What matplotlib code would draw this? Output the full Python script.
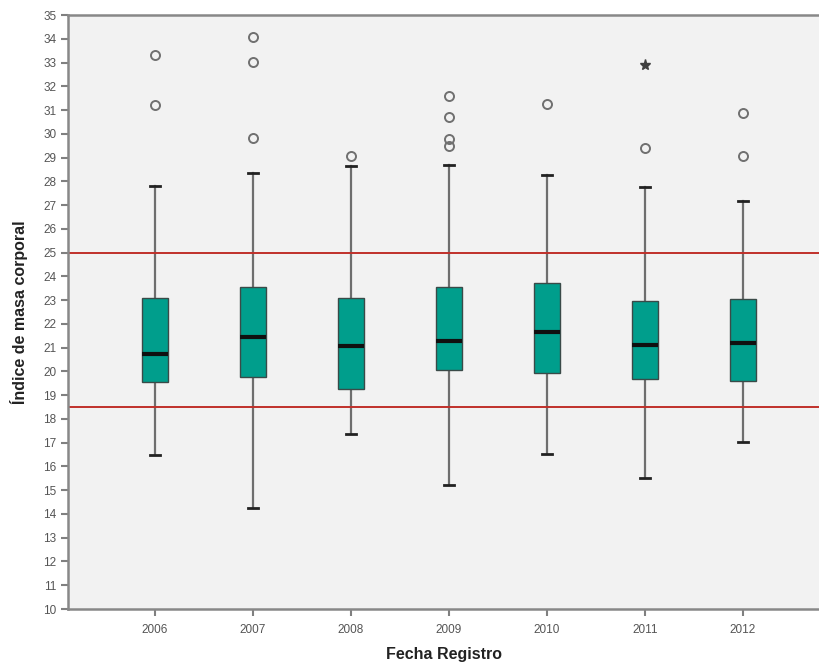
import matplotlib
matplotlib.use('Agg')
import matplotlib.pyplot as plt
import numpy as np

plt.rcParams['font.family'] = ['Liberation Sans', 'DejaVu Sans']

years = ['2006', '2007', '2008', '2009', '2010', '2011', '2012']
whislo = [16.48, 14.25, 17.35, 15.2, 16.54, 15.5, 17.04]
q1 = [19.57, 19.75, 19.25, 20.05, 19.92, 19.69, 19.58]
med = [20.73, 21.45, 21.05, 21.3, 21.64, 21.11, 21.21]
q3 = [23.08, 23.54, 23.1, 23.55, 23.73, 22.96, 23.03]
whishi = [27.82, 28.34, 28.65, 28.7, 28.25, 27.77, 27.17]
outliers = [[31.2, 33.3], [29.81, 33.03, 34.06], [29.05], [29.5, 29.8, 30.7, 31.6],
            [31.25], [29.4], [29.05, 30.88]]
# extreme values (more than 3 IQR) drawn as stars
extremes = [[], [], [], [], [], [32.9], []]
ref_lines = [25, 18.5]

stats = []
for i in range(len(years)):
    stats.append({'whislo': whislo[i], 'q1': q1[i], 'med': med[i], 'q3': q3[i],
                  'whishi': whishi[i], 'fliers': outliers[i], 'label': years[i]})

fig = plt.figure(figsize=(8.19, 6.68), dpi=100)
ax = fig.add_axes([68 / 819, 59 / 668, 751 / 819, 594 / 668])
ax.set_facecolor('#f2f2f2')

pos = np.arange(1, len(years) + 1)
ax.bxp(stats, positions=pos, widths=0.27, capwidths=0.11, patch_artist=True,
       boxprops=dict(facecolor='#009e8c', edgecolor='#3a4a48', linewidth=1.0, zorder=3),
       medianprops=dict(color='#101010', linewidth=3, zorder=4),
       whiskerprops=dict(color='#6e6e6e', linewidth=1.6),
       capprops=dict(color='#222222', linewidth=2),
       flierprops=dict(marker='o', markersize=6.5, markerfacecolor='none',
                       markeredgecolor='#707070', markeredgewidth=1.4))
for i, ex in enumerate(extremes):
    if ex:
        ax.plot([pos[i]] * len(ex), ex, linestyle='none', marker='*', markersize=8,
                color='#404040')

for r in ref_lines:
    ax.axhline(r, color='#c0302a', linewidth=1.4, zorder=2.5)

ax.set_xlim(0.112, 7.776)
ax.set_ylim(10, 35)
ax.set_yticks(np.arange(10, 36, 1))
ax.set_xticks(pos)
ax.set_xticklabels(years)
ax.tick_params(axis='both', direction='out', length=5, width=1.5, colors='#808080',
               labelcolor='#555555', labelsize=8.5)
ax.tick_params(axis='x', pad=6)
for s in ['left', 'bottom', 'top']:
    ax.spines[s].set_color('#888888')
    ax.spines[s].set_linewidth(1.8)
ax.spines['right'].set_visible(False)

ax.set_xlabel('Fecha Registro', fontsize=11.5, fontweight='bold', color='#222222', labelpad=8)
ax.set_ylabel('Índice de masa corporal', fontsize=11.5, fontweight='bold', color='#222222',
              labelpad=11)

fig.savefig('out.png', dpi=100)
